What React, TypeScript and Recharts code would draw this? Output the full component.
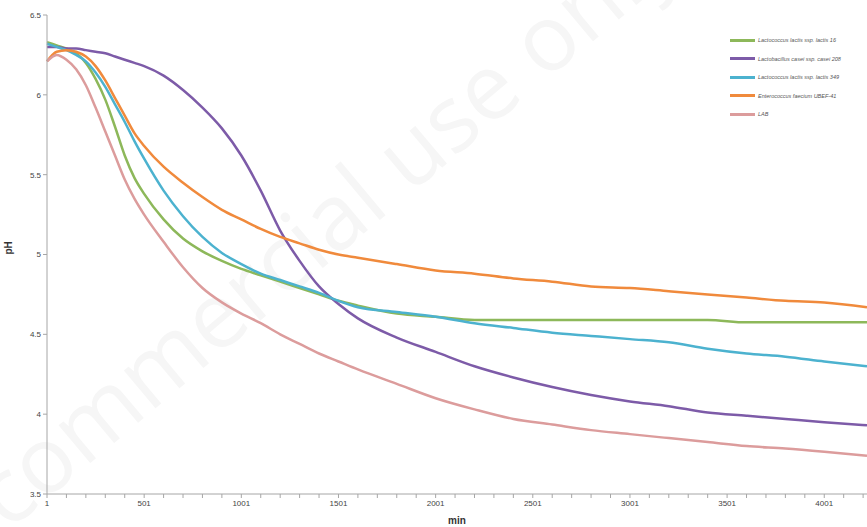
import { LineChart, Line, XAxis, YAxis, Label } from 'recharts'

const MINUTES = [1, 51, 101, 151, 201, 251, 301, 351, 401, 451, 501, 601, 701, 801, 901, 1001, 1101, 1201, 1301, 1401, 1501, 1601, 1801, 2001, 2201, 2401, 2601, 2801, 3001, 3201, 3401, 3601, 3801, 4001, 4221]

const LACTIS_16 = [6.33, 6.31, 6.29, 6.26, 6.2, 6.1, 5.97, 5.8, 5.62, 5.48, 5.38, 5.22, 5.1, 5.02, 4.96, 4.91, 4.87, 4.83, 4.79, 4.75, 4.71, 4.68, 4.63, 4.61, 4.59, 4.59, 4.59, 4.59, 4.59, 4.59, 4.59, 4.575, 4.575, 4.575, 4.575]
const CASEI_208 = [6.3, 6.3, 6.29, 6.29, 6.28, 6.27, 6.26, 6.24, 6.22, 6.2, 6.18, 6.12, 6.03, 5.92, 5.79, 5.62, 5.4, 5.15, 4.96, 4.8, 4.69, 4.6, 4.48, 4.39, 4.3, 4.23, 4.17, 4.12, 4.08, 4.05, 4.01, 3.99, 3.97, 3.95, 3.93]
const LACTIS_349 = [6.32, 6.3, 6.28, 6.25, 6.21, 6.14, 6.05, 5.94, 5.83, 5.71, 5.6, 5.4, 5.24, 5.11, 5.01, 4.94, 4.88, 4.84, 4.8, 4.76, 4.71, 4.67, 4.64, 4.61, 4.57, 4.54, 4.51, 4.49, 4.47, 4.45, 4.41, 4.38, 4.36, 4.33, 4.3]
const FAECIUM_41 = [6.21, 6.27, 6.28, 6.27, 6.24, 6.18, 6.09, 5.98, 5.87, 5.76, 5.68, 5.55, 5.45, 5.36, 5.28, 5.22, 5.16, 5.11, 5.07, 5.03, 5.0, 4.98, 4.94, 4.9, 4.88, 4.85, 4.83, 4.8, 4.79, 4.77, 4.75, 4.73, 4.71, 4.7, 4.67]
const LAB = [6.21, 6.25, 6.22, 6.16, 6.06, 5.92, 5.77, 5.62, 5.47, 5.35, 5.25, 5.08, 4.92, 4.79, 4.7, 4.63, 4.57, 4.5, 4.44, 4.38, 4.33, 4.28, 4.19, 4.1, 4.03, 3.97, 3.935, 3.9, 3.875, 3.85, 3.825, 3.8, 3.785, 3.765, 3.74]

const X_TICKS = Array.from({ length: 43 }, (_, i) => 1 + i * 100)
const Y_TICKS = [3.5, 4, 4.5, 5, 5.5, 6, 6.5]

const SERIES = [
  { key: 'l16', name: 'Lactococcus lactis ssp. lactis 16', color: '#8db85a', values: LACTIS_16 },
  { key: 'c208', name: 'Lactobacillus casei ssp. casei 208', color: '#7d5ba8', values: CASEI_208 },
  { key: 'l349', name: 'Lactococcus lactis ssp. lactis 349', color: '#4cb2cf', values: LACTIS_349 },
  { key: 'f41', name: 'Enterococcus faecium UBEF-41', color: '#f08a3c', values: FAECIUM_41 },
  { key: 'lab', name: 'LAB', color: '#dc9c9c', values: LAB },
]

const data = MINUTES.map((m, i) => {
  const row: Record<string, number> = { min: m }
  SERIES.forEach((s) => {
    row[s.key] = s.values[i]
  })
  return row
})

const FONT = '"Liberation Sans Narrow", "Liberation Sans", Arial, sans-serif'

function LegendBox() {
  return (
    <div style={{ position: 'absolute', left: 730, top: 31, fontFamily: FONT }}>
      {SERIES.map((s) => (
        <div key={s.key} style={{ display: 'flex', alignItems: 'center', height: 18.5 }}>
          <div style={{ width: 25, height: 3, background: s.color, marginRight: 3 }} />
          <span style={{ fontSize: 5.5, fontStyle: 'italic', color: '#555', whiteSpace: 'nowrap' }}>
            {s.name}
          </span>
        </div>
      ))}
    </div>
  )
}

export default function App() {
  return (
    <div style={{ position: 'absolute', left: 0, top: 0, width: 867, height: 527, background: '#fff', overflow: 'hidden' }}>
      <svg width={867} height={527} style={{ position: 'absolute', left: 0, top: 0 }}>
        <text
          x={0}
          y={0}
          transform="translate(8,532) rotate(-40)"
          fontFamily="'Open Sans', sans-serif"
          fontSize={92}
          fill="#f6f6f6"
        >
          commercial use only
        </text>
      </svg>
      <div style={{ position: 'absolute', left: 0, top: 0 }}>
        <LineChart
          width={867}
          height={527}
          data={data}
          margin={{ top: 15, right: 0, left: 0, bottom: 0 }}
        >
          <XAxis
            dataKey="min"
            type="number"
            domain={[1, 4221]}
            ticks={X_TICKS}
            interval={0}
            tickFormatter={(v: number) => ((v - 1) % 500 === 0 ? String(v) : '')}
            tickSize={4}
            height={33}
            stroke="#a6a6a6"
            tick={{ fill: '#444', fontSize: 8, fontFamily: FONT }}
          >
            <Label value="min" position="insideBottom" offset={3} style={{ fontWeight: 'bold', fontSize: 10, fill: '#333', fontFamily: FONT }} />
          </XAxis>
          <YAxis
            type="number"
            domain={[3.5, 6.5]}
            ticks={Y_TICKS}
            interval={0}
            width={47}
            tickSize={4}
            stroke="#a6a6a6"
            tick={{ fill: '#444', fontSize: 8, fontFamily: FONT }}
          >
            <Label value="pH" angle={-90} position="insideLeft" offset={8} style={{ fontWeight: 'bold', fontSize: 10, fill: '#333', fontFamily: FONT }} />
          </YAxis>
          {SERIES.map((s) => (
            <Line
              key={s.key}
              dataKey={s.key}
              name={s.name}
              stroke={s.color}
              strokeWidth={2.5}
              type="monotone"
              dot={false}
              isAnimationActive={false}
            />
          ))}
        </LineChart>
      </div>
      <LegendBox />
    </div>
  )
}
